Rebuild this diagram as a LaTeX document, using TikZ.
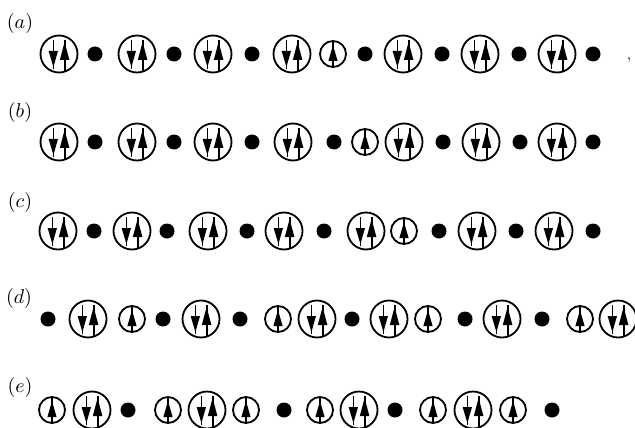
\documentclass[tikz,border=0pt]{standalone}
\usepackage{amsmath,amssymb}
\usepackage{tikz}

\begin{document}
\begin{tikzpicture}[x=0.5pt, y=-0.5pt,
        every node/.style={inner sep=0pt, outer sep=0pt},
        site/.style={circle, draw, line width=0.9pt},
        spin/.style={line width=0.9pt},
        pairsite/.style={site, minimum size=18.5pt, path picture={
            \begin{scope}[shift={(path picture bounding box.center)}]
                \draw[spin] (-2.8pt,6.8pt) -- (-2.8pt,-7.5pt);
                \fill (-5.2pt,1.5pt) -- (-0.5pt,1.5pt) -- (-2.8pt,-6.5pt) -- cycle;
                \draw[spin] (2.8pt,-9.5pt) -- (2.8pt,7pt);
                \fill (0.4pt,-3pt) -- (5.2pt,-3pt) -- (2.8pt,6pt) -- cycle;
            \end{scope}}},
        onesite/.style={site, minimum size=13pt, path picture={
            \begin{scope}[shift={(path picture bounding box.center)}]
                \draw[spin] (0,-7pt) -- (0,7pt);
                \fill (-2.3pt,-3.5pt) -- (2.3pt,-3.5pt) -- (0,4.5pt) -- cycle;
            \end{scope}}},
        holesite/.style={circle, fill, minimum size=7.5pt}
    ]
    \useasboundingbox (0,0) rectangle (635,427);

    % row labels
    \node (la) at (20,24)  {$(a)$};
    \node (lb) at (20,113) {$(b)$};
    \node (lc) at (20,202) {$(c)$};
    \node (ld) at (19,298) {$(d)$};
    \node (le) at (20,387) {$(e)$};

    % (a)
    \foreach \s/\x [count=\i] in {pairsite/59, holesite/95, pairsite/137, holesite/174,
        pairsite/213, holesite/252, pairsite/292, onesite/333, holesite/365, pairsite/403,
        holesite/442, pairsite/480, holesite/519, pairsite/557, holesite/593}
        \node[\s] (a\i) at (\x,54) {};
    \node[font=\scriptsize] (mark) at (629,60) {,};

    % (b)
    \foreach \s/\x [count=\i] in {pairsite/59, holesite/95, pairsite/137, holesite/174,
        pairsite/213, holesite/252, pairsite/293, holesite/334, onesite/365, pairsite/404,
        holesite/443, pairsite/481, holesite/520, pairsite/557, holesite/593}
        \node[\s] (b\i) at (\x,142) {};

    % (c)
    \foreach \s/\x [count=\i] in {pairsite/58, holesite/94, pairsite/132, holesite/167,
        pairsite/208, holesite/247, pairsite/284, holesite/324, pairsite/366, onesite/404,
        holesite/439, pairsite/477, holesite/516, pairsite/554, holesite/593}
        \node[\s] (c\i) at (\x,231) {};

    % (d)
    \foreach \s/\x [count=\i] in {holesite/48, pairsite/88, onesite/132, holesite/163,
        pairsite/201, holesite/240, onesite/278, pairsite/317, holesite/352, pairsite/389,
        onesite/428, holesite/465, pairsite/502, holesite/542, onesite/580, pairsite/618}
        \node[\s] (d\i) at (\x,319) {};

    % (e)
    \foreach \s/\x [count=\i] in {onesite/52, pairsite/92, holesite/128, onesite/168,
        pairsite/207, onesite/246, holesite/284, onesite/320, pairsite/359, holesite/395,
        onesite/433, pairsite/473, onesite/513, holesite/552}
        \node[\s] (e\i) at (\x,410) {};
\end{tikzpicture}
\end{document}
